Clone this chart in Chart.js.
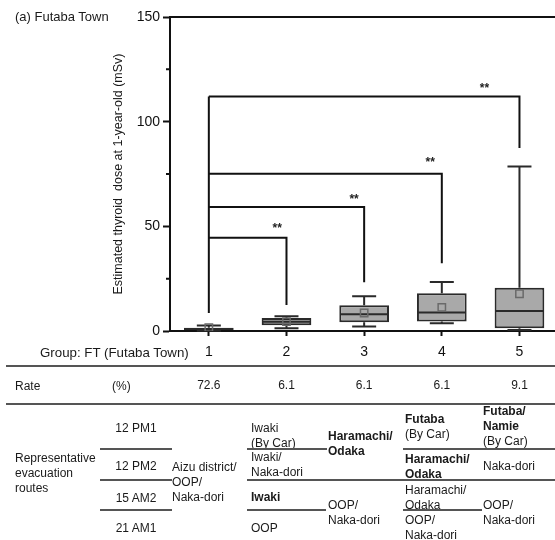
<!DOCTYPE html>
<html><head><meta charset="utf-8">
<script src="https://cdn.jsdelivr.net/npm/chart.js@4"></script>
<style>
html,body{margin:0;padding:0;background:#fff;overflow:hidden;width:555px;height:540px;}
#wrap{position:relative;width:555px;height:540px;overflow:hidden;font-family:"Liberation Sans",Arial,sans-serif;color:#1a1a1a;}
#c{position:absolute;left:0;top:0;}
.t{position:absolute;white-space:nowrap;font-size:12px;line-height:15px;}
.b{font-weight:bold;}
.ln{position:absolute;height:2px;background:#555;}
</style></head>
<body><div id="wrap"><canvas id="c" width="565" height="540"></canvas></div>
<script>
// ---------- data ----------
const categories = ['1', '2', '3', '4', '5'];
const q1 = [0.3, 2.7, 4.2, 4.5, 1.3];
const q3 = [1.5, 6.2, 12.3, 18.0, 20.7];
const medians = [0.9, 4.4, 8.0, 8.8, 9.6];
const whiskerLow = [0.1, 1.3, 2.2, 3.7, 0.5];
const whiskerHigh = [2.6, 7.0, 16.6, 23.4, 78.6];
const means = [1.6, 4.5, 8.6, 11.3, 17.8];
const yMajorTicks = [0, 50, 100, 150];
const yMinorTicks = [25, 75, 125];
const yTitle = 'Estimated thyroid  dose at 1-year-old (mSv)';
const panelTitle = '(a) Futaba Town';
const groupLabel = 'Group: FT (Futaba Town)';

// significance brackets (group 1 vs group n)
const bracketTo = [2, 3, 4, 5];
const bracketHeights = [44.6, 59.2, 75.1, 112];
const bracketRightEnds = [12.4, 23.3, 32.4, 87.4];
const bracketLeftEnd = 8.6;
const bracketMarks = ['**', '**', '**', '**'];
const markX = [0.88, 1.87, 2.85, 3.55];      // category index position
const markY = [50.4, 64.6, 82.2, 117.7];     // value position

// table
const rateLabel = 'Rate';
const rateUnit = '(%)';
const rates = ['72.6', '6.1', '6.1', '6.1', '9.1'];
const routeHeader = ['Representative', 'evacuation', 'routes'];
const routeDates = ['12 PM1', '12 PM2', '15 AM2', '21 AM1'];
const routesG1 = [['Aizu district/', 'OOP/', 'Naka-dori']];
const routesG2 = [['Iwaki', '(By Car)'], ['Iwaki/', 'Naka-dori'], ['Iwaki'], ['OOP']];
const routesG3 = [['Haramachi/', 'Odaka'], ['OOP/', 'Naka-dori']];
const routesG4 = [['Futaba', '(By Car)'], ['Haramachi/', 'Odaka'], ['Haramachi/', 'Odaka'], ['OOP/', 'Naka-dori']];
const routesG5 = [['Futaba/', 'Namie', '(By Car)'], ['Naka-dori'], ['OOP/', 'Naka-dori']];

// ---------- layout / style ----------
const FONT = '"Liberation Sans", Arial, sans-serif';
const INK = '#1a1a1a';
const BOX_EDGE = '#2a2a2a';
const routeGroups = [routesG1, routesG2, routesG3, routesG4, routesG5];
const groupColX = [172, 251, 328, 405, 483];
const cellY = [[467], [428, 457, 497, 528], [436, 505], [419, 459, 490, 520], [411, 466, 505]];
// bold lines: [group, cell, line]
const boldLines = [[1,2,0],[2,0,0],[2,0,1],[3,0,0],[3,1,0],[3,1,1],[4,0,0],[4,0,1]];
const dateY = [428, 466, 498, 528];
const headerY = [458, 473, 488];
const tableLines = [
  [366, 6, 555], [404, 6, 555],
  [449, 100, 172], [480, 100, 172], [510, 100, 172],
  [449, 247, 327], [449, 403, 555],
  [480, 247, 555],
  [510, 247, 326], [510, 403, 482]
];

const wrap = document.getElementById('wrap');
function addText(txt, x, yc, opts = {}) {
  const d = document.createElement('div');
  d.className = 't' + (opts.bold ? ' b' : '');
  d.textContent = txt;
  d.style.top = (yc - 7.5) + 'px';
  if (opts.size) { d.style.fontSize = opts.size + 'px'; }
  if (opts.center) { d.style.left = x + 'px'; d.style.transform = 'translateX(-50%)'; }
  else d.style.left = x + 'px';
  wrap.appendChild(d);
}
function addLine(y, x1, x2) {
  const d = document.createElement('div');
  d.className = 'ln';
  d.style.top = (y - 1) + 'px'; d.style.left = x1 + 'px'; d.style.width = (x2 - x1) + 'px';
  wrap.appendChild(d);
}

addText(panelTitle, 15, 16, {size: 13});
addText(groupLabel, 40, 352, {size: 13.3});
addText(rateLabel, 15, 386);
addText(rateUnit, 112, 386);
routeHeader.forEach((t, i) => addText(t, 15, headerY[i]));
routeDates.forEach((t, i) => addText(t, 136, dateY[i], {center: true}));
routeGroups.forEach((cells, g) => {
  cells.forEach((lines, c) => {
    lines.forEach((t, l) => {
      const bold = boldLines.some(b => b[0] === g && b[1] === c && b[2] === l);
      addText(t, groupColX[g], cellY[g][c] + l * 15, {bold});
    });
  });
});
tableLines.forEach(l => addLine(l[0], l[1], l[2]));

// ---------- plugins ----------
const boxPlugin = {
  id: 'boxWhisker',
  afterDatasetDraw(chart, args) {
    if (args.index !== 0) return;
    const {ctx, scales: {y}} = chart;
    const meta = chart.getDatasetMeta(0);
    const cap = 24;
    ctx.save();
    ctx.strokeStyle = BOX_EDGE;
    ctx.lineWidth = 2;
    categories.forEach((c, i) => {
      const el = meta.data[i];
      const {x: cx, width} = el.getProps(['x', 'width'], true);
      const yHi = y.getPixelForValue(whiskerHigh[i]);
      const yLo = y.getPixelForValue(whiskerLow[i]);
      const yQ1 = y.getPixelForValue(q1[i]);
      const yQ3 = y.getPixelForValue(q3[i]);
      const yMed = y.getPixelForValue(medians[i]);
      ctx.beginPath();
      ctx.moveTo(cx, yQ3); ctx.lineTo(cx, yHi);
      ctx.moveTo(cx - cap / 2, yHi); ctx.lineTo(cx + cap / 2, yHi);
      ctx.moveTo(cx, yQ1); ctx.lineTo(cx, yLo);
      ctx.moveTo(cx - cap / 2, yLo); ctx.lineTo(cx + cap / 2, yLo);
      ctx.moveTo(cx - width / 2 + 1, yMed); ctx.lineTo(cx + width / 2 - 1, yMed);
      ctx.stroke();
    });
    ctx.restore();
  }
};

const annotPlugin = {
  id: 'annot',
  afterDraw(chart) {
    const {ctx, chartArea, scales: {x, y}} = chart;
    ctx.save();
    // top frame line
    ctx.strokeStyle = '#111';
    ctx.lineWidth = 2;
    ctx.beginPath();
    ctx.moveTo(chartArea.left - 1, chartArea.top);
    ctx.lineTo(chartArea.right, chartArea.top);
    ctx.stroke();
    // minor ticks
    ctx.beginPath();
    yMinorTicks.forEach(v => {
      const py = y.getPixelForValue(v);
      ctx.moveTo(chartArea.left - 4, py); ctx.lineTo(chartArea.left, py);
    });
    ctx.stroke();
    // brackets
    ctx.strokeStyle = '#111';
    ctx.lineWidth = 2;
    const x0 = x.getPixelForValue(0);
    const topH = Math.max(...bracketHeights);
    ctx.beginPath();
    ctx.moveTo(x0, y.getPixelForValue(bracketLeftEnd));
    ctx.lineTo(x0, y.getPixelForValue(topH));
    bracketTo.forEach((g, k) => {
      const xk = x.getPixelForValue(g - 1);
      const yk = y.getPixelForValue(bracketHeights[k]);
      ctx.moveTo(x0, yk); ctx.lineTo(xk, yk); ctx.lineTo(xk, y.getPixelForValue(bracketRightEnds[k]));
    });
    ctx.stroke();
    ctx.fillStyle = '#222';
    ctx.font = 'bold 12px ' + FONT;
    ctx.textAlign = 'center';
    ctx.textBaseline = 'alphabetic';
    bracketMarks.forEach((m, k) => {
      ctx.fillText(m, x.getPixelForValue(markX[k]), y.getPixelForValue(markY[k]) + 7);
    });
    // rate row
    ctx.fillStyle = INK;
    ctx.font = '12px ' + FONT;
    ctx.textBaseline = 'middle';
    rates.forEach((r, i) => ctx.fillText(r, x.getPixelForValue(i), 386));
    ctx.restore();
  }
};

new Chart(document.getElementById('c'), {
  type: 'bar',
  data: {
    labels: categories,
    datasets: [
      {
        type: 'bar', label: 'Interquartile range',
        data: categories.map((_, i) => [q1[i], q3[i]]),
        backgroundColor: '#a9a9a9', borderColor: BOX_EDGE, borderWidth: 2,
        borderSkipped: false, barPercentage: 0.64, categoryPercentage: 1, order: 1
      },
      {
        type: 'line', label: 'Mean', data: means, showLine: false,
        pointStyle: 'rect', pointRadius: 5.2, pointBorderColor: '#6a6a6a',
        pointBackgroundColor: 'rgba(0,0,0,0)', pointBorderWidth: 1.5, order: 0
      }
    ]
  },
  options: {
    responsive: false, animation: false, devicePixelRatio: 1,
    layout: {padding: {left: 0, top: 17, right: 5, bottom: 169}},
    plugins: {legend: {display: false}, tooltip: {enabled: false}},
    scales: {
      x: {
        grid: {display: true, drawOnChartArea: false, offset: false, tickLength: 5, tickColor: '#111', tickWidth: 2},
        border: {display: true, color: '#111', width: 2},
        ticks: {padding: 8, color: '#111', font: {size: 14, family: FONT}},
        afterFit(s) { s.height = 40; }
      },
      y: {
        min: 0, max: 150,
        afterBuildTicks(s) { s.ticks = yMajorTicks.map(v => ({value: v})); },
        ticks: {padding: 3, color: '#111', font: {size: 14, family: FONT}},
        grid: {display: true, drawOnChartArea: false, tickLength: 7, tickColor: '#111', tickWidth: 2},
        border: {display: true, color: '#111', width: 2},
        title: {display: true, text: yTitle, color: INK, font: {size: 12.5, family: FONT}, padding: {top: 111, bottom: 0}},
        afterFit(s) { s.width = 170; }
      }
    }
  },
  plugins: [boxPlugin, annotPlugin]
});
</script></body></html>
